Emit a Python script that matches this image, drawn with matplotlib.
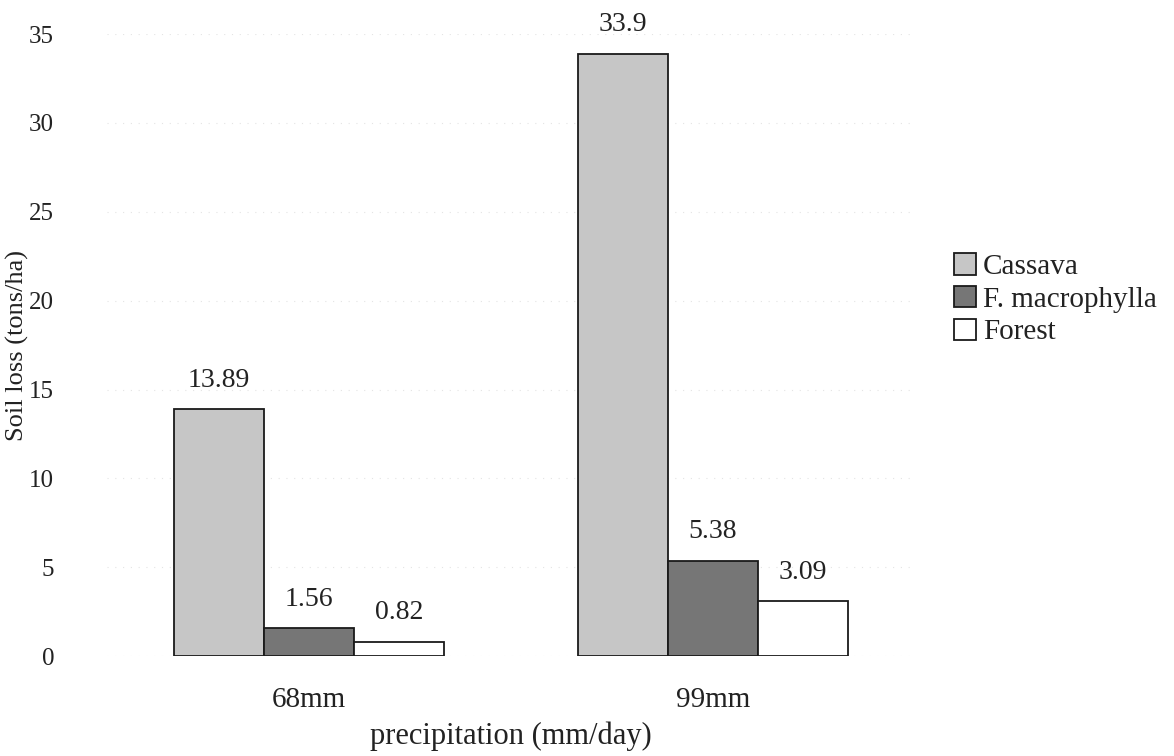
import matplotlib
matplotlib.use('Agg')
import matplotlib.pyplot as plt
import numpy as np

precip = ['68mm', '99mm']
cassava = [13.89, 33.9]
macrophylla = [1.56, 5.38]
forest = [0.82, 3.09]
series_names = ['Cassava', 'F. macrophylla', 'Forest']
yticks = [0, 5, 10, 15, 20, 25, 30, 35]

plt.rcParams['font.family'] = ['Liberation Serif', 'DejaVu Serif']
txt = '#222222'

fig = plt.figure(figsize=(11.74, 7.56), dpi=100)
ax = fig.add_axes([0.0911, 0.132, 0.688, 0.823])

x = np.arange(len(precip))
w = 0.2228
colors = ['#c6c6c6', '#767676', 'white']
bars = []
for i, (vals, col, name) in enumerate(zip([cassava, macrophylla, forest], colors, series_names)):
    b = ax.bar(x + (i - 1) * w, vals, w, color=col, edgecolor='#1a1a1a',
               linewidth=1.3, label=name, zorder=3)
    bars.append(b)
    for xi, v in zip(x + (i - 1) * w, vals):
        ax.annotate(f'{v:g}', (xi, v), xytext=(0, 12), textcoords='offset points',
                    ha='center', va='bottom', fontsize=20, color=txt)

ax.set_xlim(-0.5, 1.5)
ax.set_ylim(0, 35)
ax.set_yticks(yticks)
ax.set_xticks(x)
ax.set_xticklabels(precip)
ax.tick_params(axis='y', length=0, pad=38, labelsize=18, labelcolor=txt)
ax.tick_params(axis='x', length=0, pad=22, labelsize=21, labelcolor=txt)
for s in ax.spines.values():
    s.set_visible(False)
ax.yaxis.grid(True, color='#e4e4e4', linestyle=(0, (1, 6)), linewidth=0.8, zorder=0)

ax.set_ylabel('Soil loss (tons/ha)', fontsize=19, color=txt)
ax.yaxis.set_label_coords(-0.096, 0.5)
ax.set_xlabel('precipitation (mm/day)', fontsize=22, color=txt, labelpad=6)

fig.legend(handles=bars, labels=series_names, loc='center left',
           bbox_to_anchor=(0.800, 0.604), frameon=False, fontsize=21,
           handlelength=0.75, handleheight=0.75, handletextpad=0.25,
           labelspacing=0.2, labelcolor=txt, borderpad=0)

fig.savefig('out.png', dpi=100)
